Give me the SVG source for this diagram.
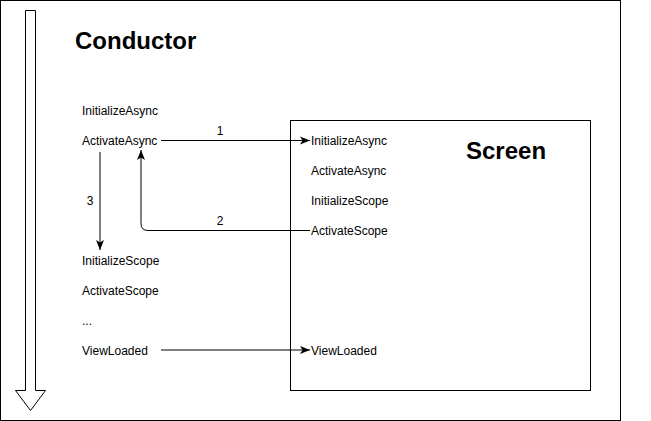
<svg xmlns="http://www.w3.org/2000/svg" width="651" height="421" viewBox="0 0 651 421">
<defs>
<style>
.t{font-family:"Liberation Sans",Arial,sans-serif;font-size:12px;fill:#000}
.h{font-family:"Liberation Sans",Arial,sans-serif;font-size:24px;font-weight:bold;fill:#000}
.c{fill:none;stroke:#000;stroke-width:1}
</style>
<marker id="ah" markerUnits="userSpaceOnUse" markerWidth="12" markerHeight="10" viewBox="0 0 12 10" refX="10" refY="5" orient="auto">
<path d="M0,1 L10,5 L0,9 L2.5,5 Z" fill="#000"/>
</marker>
</defs>
<rect width="651" height="421" fill="#fff"/>
<g id="conductor">
<rect x="0.5" y="0.5" width="620" height="420" fill="#fff" stroke="#000"/>
<text class="h" x="75" y="49">Conductor</text>
</g>
<g id="timeline">
<path d="M25.5,10.5 L35.5,10.5 L35.5,390.5 L45.5,390.5 L30.5,410.5 L15.5,390.5 L25.5,390.5 Z" fill="#fff" stroke="#000"/>
</g>
<g id="screen">
<rect x="290.5" y="120.5" width="300" height="270" fill="#fff" stroke="#000"/>
<text class="h" x="466" y="159">Screen</text>
</g>
<g id="conductor-methods">
<text class="t" x="82" y="115">InitializeAsync</text>
<text class="t" x="82" y="145">ActivateAsync</text>
<text class="t" x="82" y="265">InitializeScope</text>
<text class="t" x="82" y="295">ActivateScope</text>
<text class="t" x="82" y="325">...</text>
<text class="t" x="82" y="355">ViewLoaded</text>
</g>
<g id="screen-methods">
<text class="t" x="311" y="145">InitializeAsync</text>
<text class="t" x="311" y="175">ActivateAsync</text>
<text class="t" x="311" y="205">InitializeScope</text>
<text class="t" x="311" y="235">ActivateScope</text>
<text class="t" x="311" y="355">ViewLoaded</text>
</g>
<g id="connectors">
<path class="c" d="M161,140.5 L310,140.5" marker-end="url(#ah)"/>
<text class="t" x="220" y="135" text-anchor="middle">1</text>
<path class="c" d="M310,230.5 L148,230.5 Q141,230.5 141,223.5 L141,150" marker-end="url(#ah)"/>
<text class="t" x="220" y="225" text-anchor="middle">2</text>
<path class="c" d="M100,152 L100,250" marker-end="url(#ah)"/>
<text class="t" x="90" y="205" text-anchor="middle">3</text>
<path class="c" d="M161,350 L310,350" marker-end="url(#ah)"/>
</g>
</svg>
